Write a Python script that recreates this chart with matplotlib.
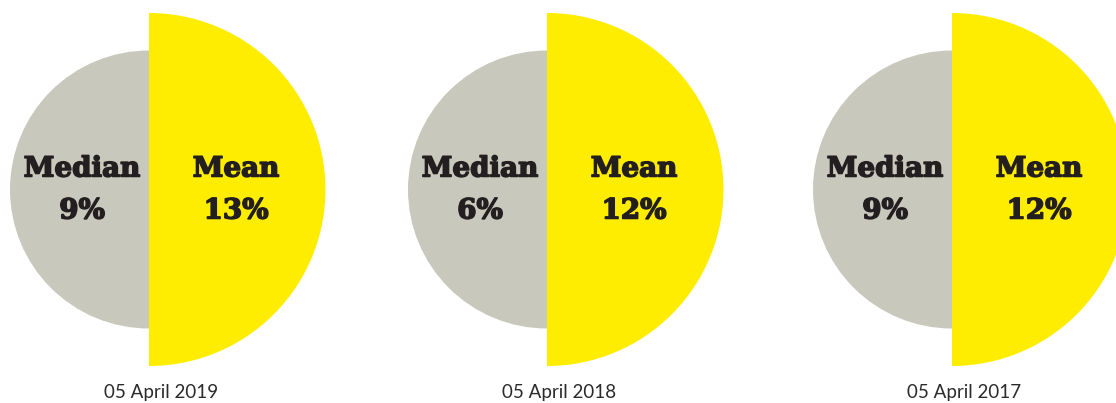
import matplotlib.pyplot as plt
import matplotlib.patheffects as pe
from matplotlib.patches import Wedge

# gender pay gap snapshots
dates = ["05 April 2019", "05 April 2018", "05 April 2017"]
median_gap = [9, 6, 9]
mean_gap = [13, 12, 12]

GREY = "#c8c9bc"
YELLOW = "#ffed00"
INK = "#231f20"

CENTRES = [149, 547, 952]   # x of the split line, in pixels
CY = 189.5
R_MEDIAN = 139
R_MEAN = 176.5

fig = plt.figure(figsize=(11.16, 4.03), dpi=100)
ax = fig.add_axes([0, 0, 1, 1])
ax.set_xlim(0, 1116)
ax.set_ylim(403, 0)
ax.set_aspect("equal")
ax.axis("off")

# thicken the serif bold a bit so it reads like a heavy slab face
heavy = [pe.withStroke(linewidth=1.1, foreground=INK)]

for cx, date, med, mean in zip(CENTRES, dates, median_gap, mean_gap):
    # y axis is inverted, so angles 90..270 give the left half
    ax.add_patch(Wedge((cx, CY), R_MEDIAN, 90, 270, facecolor=GREY, lw=0))
    ax.add_patch(Wedge((cx, CY), R_MEAN, -90, 90, facecolor=YELLOW, lw=0))

    bold = dict(family="DejaVu Serif", weight="bold", fontsize=20,
                color=INK, ha="center", va="center", path_effects=heavy)
    ax.text(cx - 67, 169, "Median", **bold)
    ax.text(cx - 67, 211, f"{med}%", **bold)
    ax.text(cx + 87, 169, "Mean", **bold)
    ax.text(cx + 87, 211, f"{mean}%", **bold)

    ax.text(cx + 12, 392.5, date, family="Lato", fontsize=13.5,
            color="#2b2b2b", ha="center", va="center")

fig.savefig("out.png", dpi=100)
